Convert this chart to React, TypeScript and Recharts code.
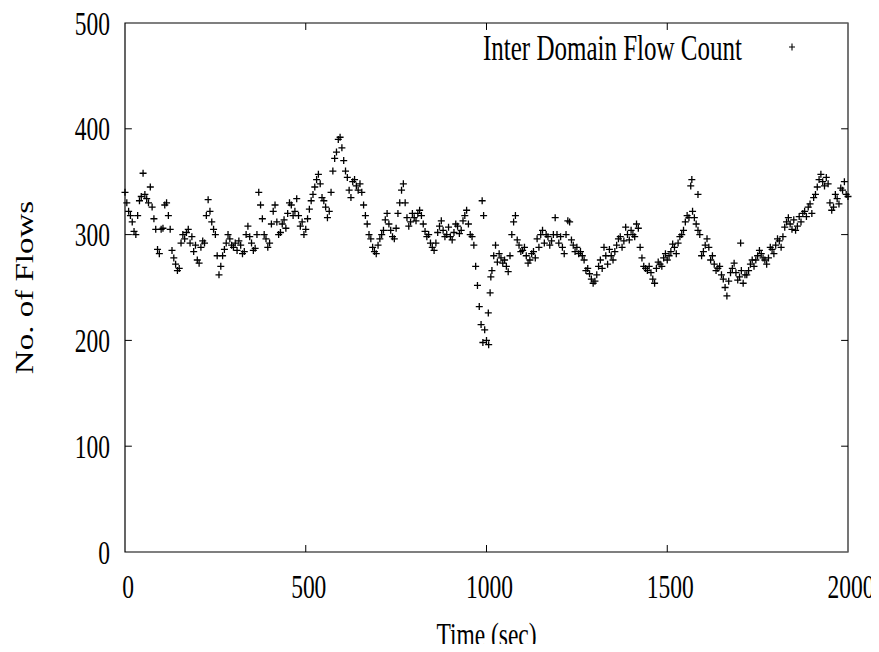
import { ScatterChart, Scatter, XAxis, YAxis, Legend, ReferenceArea, ReferenceLine } from 'recharts'

// flow count every 10 s (t = 0, 10, ... 2000)
const flows = [
  340, 322, 312, 300, 332, 358, 334, 345, 315, 286,
  305, 328, 318, 285, 272, 268, 300, 302, 292, 284,
  276, 288, 292, 333, 312, 300, 262, 280, 292, 296,
  288, 285, 290, 284, 308, 292, 287, 340, 315, 296,
  292, 322, 312, 302, 314, 320, 328, 322, 318, 312,
  305, 324, 338, 352, 348, 332, 316, 340, 372, 390,
  382, 360, 342, 350, 346, 348, 328, 310, 296, 284,
  290, 300, 314, 310, 298, 306, 330, 348, 316, 312,
  316, 320, 318, 303, 300, 288, 292, 308, 304, 300,
  298, 302, 308, 304, 318, 310, 298, 270, 232, 198,
  200, 245, 280, 274, 278, 276, 265, 300, 318, 290,
  285, 280, 276, 284, 296, 300, 292, 298, 294, 316,
  292, 288, 300, 312, 290, 288, 284, 276, 268, 258,
  256, 270, 268, 280, 286, 276, 290, 298, 294, 300,
  304, 298, 306, 278, 268, 270, 258, 268, 272, 278,
  276, 284, 288, 292, 300, 312, 316, 322, 310, 300,
  284, 296, 276, 272, 268, 262, 250, 256, 268, 264,
  260, 254, 262, 272, 270, 280, 282, 276, 278, 286,
  290, 294, 298, 312, 310, 314, 308, 312, 322, 326,
  320, 338, 352, 350, 354, 330, 326, 334, 344, 350,
  336,
]
// the samples in between (t = 5, 15, ... 1995)
const flowsMid = [
  330, 318, 303, 318, 336, 338, 330, 326, 305, 282,
  306, 330, 305, 278, 266, 292, 296, 305, 298, 290,
  273, 294, 318, 322, 305, 280, 270, 286, 300, 290,
  292, 294, 282, 300, 298, 285, 300, 328, 300, 288,
  310, 328, 300, 310, 306, 330, 318, 334, 308, 300,
  315, 332, 345, 357, 335, 326, 322, 360, 378, 392,
  370, 354, 335, 352, 342, 340, 318, 300, 288, 282,
  296, 304, 320, 304, 296, 320, 342, 330, 308, 320,
  313, 323, 310, 298, 292, 285, 302, 313, 298, 307,
  295, 310, 301, 313, 323, 300, 290, 252, 215, 210,
  226, 266, 290, 282, 273, 270, 280, 312, 295, 284,
  288, 273, 282, 278, 288, 304, 300, 290, 300, 300,
  298, 282, 313, 295, 284, 282, 280, 266, 263, 254,
  262, 276, 288, 272, 280, 284, 296, 288, 307, 295,
  300, 310, 288, 270, 266, 264, 254, 274, 270, 282,
  280, 291, 282, 298, 304, 318, 346, 316, 304, 280,
  290, 288, 280, 266, 270, 258, 242, 264, 273, 257,
  266, 262, 266, 276, 276, 285, 278, 272, 288, 282,
  296, 288, 307, 316, 305, 304, 317, 320, 317, 329,
  335, 345, 357, 346, 348, 323, 338, 329, 342, 338,
]
// isolated points that stick out of the band
const spikeTimes = [988, 992, 1006, 1012, 1568, 1585, 1703]
const spikeFlows = [332, 318, 196, 260, 352, 338, 292]

const xTicks = [0, 500, 1000, 1500, 2000]
const yTicks = [0, 100, 200, 300, 400, 500]
const seriesName = 'Inter Domain Flow Count'

const data = [
  ...flows.map((n, i) => ({ t: i * 10, n })),
  ...flowsMid.map((n, i) => ({ t: i * 10 + 5, n })),
  ...spikeTimes.map((t, i) => ({ t, n: spikeFlows[i] })),
]

const FONT = '"Liberation Serif", "Times New Roman", serif'
const FS = 23.5
const STRETCH = 1.45
const TICK_X = 19 // inward tick length, in seconds
const TICK_Y = 6.6 // inward tick length, in flows

function Plus(props: any) {
  const { cx, cy } = props
  return <path d={`M${cx - 3.5},${cy}h7M${cx},${cy - 3.5}v7`} stroke="#000" strokeWidth={1.3} fill="none" />
}

function XTick({ x, y, payload }: any) {
  return (
    <text transform={`translate(${x + 3},${y}) scale(1,${STRETCH})`} textAnchor="middle" dy="0.34em"
      fontFamily={FONT} fontSize={FS} fill="#000">
      {payload.value}
    </text>
  )
}

function YTick({ x, y, payload }: any) {
  return (
    <text transform={`translate(${x},${y}) scale(1,${STRETCH})`} textAnchor="end" dy="0.34em"
      fontFamily={FONT} fontSize={FS} fill="#000">
      {payload.value}
    </text>
  )
}

function XLabel({ viewBox }: any) {
  const cx = viewBox.x + viewBox.width / 2
  const cy = viewBox.y + 82
  return (
    <text transform={`translate(${cx},${cy}) scale(1,${STRETCH})`} textAnchor="middle" dy="0.34em"
      fontFamily={FONT} fontSize={FS} fill="#000">
      Time (sec)
    </text>
  )
}

function YLabel({ viewBox }: any) {
  const cx = viewBox.x - 41
  const cy = viewBox.y + viewBox.height / 2
  return (
    <text transform={`translate(${cx},${cy}) scale(1,1.27) rotate(-90)`} textAnchor="middle" dy="0.34em"
      fontFamily={FONT} fontSize={26} fill="#000">
      No. of Flows
    </text>
  )
}

function KeyBox() {
  return (
    <div style={{ position: 'relative', width: 330, height: 40, fontFamily: FONT, fontSize: 25, lineHeight: 1 }}>
      <span style={{ position: 'absolute', right: 66, top: 8, transform: `scaleY(${STRETCH})`, whiteSpace: 'nowrap' }}>
        {seriesName}
      </span>
      <svg style={{ position: 'absolute', left: 309, top: 15 }} width={10} height={10}>
        <path d="M2,5h6M5,1.5v7" stroke="#000" strokeWidth={1.1} fill="none" />
      </svg>
    </div>
  )
}

export default function App() {
  return (
    <div style={{ width: 879, height: 652, margin: -8, background: '#fff' }}>
      <ScatterChart width={879} height={652} margin={{ top: 23, right: 31, bottom: 40, left: 65 }}>
        <XAxis type="number" dataKey="t" domain={[0, 2000]} ticks={xTicks} height={60}
          tickLine={false} axisLine={false} tickSize={0} tickMargin={34} tick={<XTick />}
          label={(p: any) => <XLabel {...p} />} />
        <YAxis type="number" dataKey="n" domain={[0, 500]} ticks={yTicks} width={60}
          tickLine={false} axisLine={false} tickSize={0} tickMargin={15} tick={<YTick />}
          label={(p: any) => <YLabel {...p} />} />
        <ReferenceArea x1={0} x2={2000} y1={0} y2={500} fill="none" stroke="#000" strokeWidth={1.2} />
        <ReferenceLine x={2000} stroke="#808080" strokeWidth={1.2} />
        {xTicks.slice(1, -1).map((t) => (
          <ReferenceLine key={`b${t}`} segment={[{ x: t, y: 0 }, { x: t, y: TICK_Y }]} stroke="#000" />
        ))}
        {xTicks.slice(1, -1).map((t) => (
          <ReferenceLine key={`t${t}`} segment={[{ x: t, y: 500 }, { x: t, y: 500 - TICK_Y }]} stroke="#000" />
        ))}
        {yTicks.slice(1, -1).map((v) => (
          <ReferenceLine key={`l${v}`} segment={[{ x: 0, y: v }, { x: TICK_X, y: v }]} stroke="#000" />
        ))}
        {yTicks.slice(1, -1).map((v) => (
          <ReferenceLine key={`r${v}`} segment={[{ x: 2000, y: v }, { x: 2000 - TICK_X, y: v }]} stroke="#000" />
        ))}
        <Legend layout="horizontal" verticalAlign="middle" align="center"
          wrapperStyle={{ top: 27, left: 478, width: 330 }} content={() => <KeyBox />} />
        <Scatter name={seriesName} data={data} shape={<Plus />} isAnimationActive={false} />
      </ScatterChart>
    </div>
  )
}
